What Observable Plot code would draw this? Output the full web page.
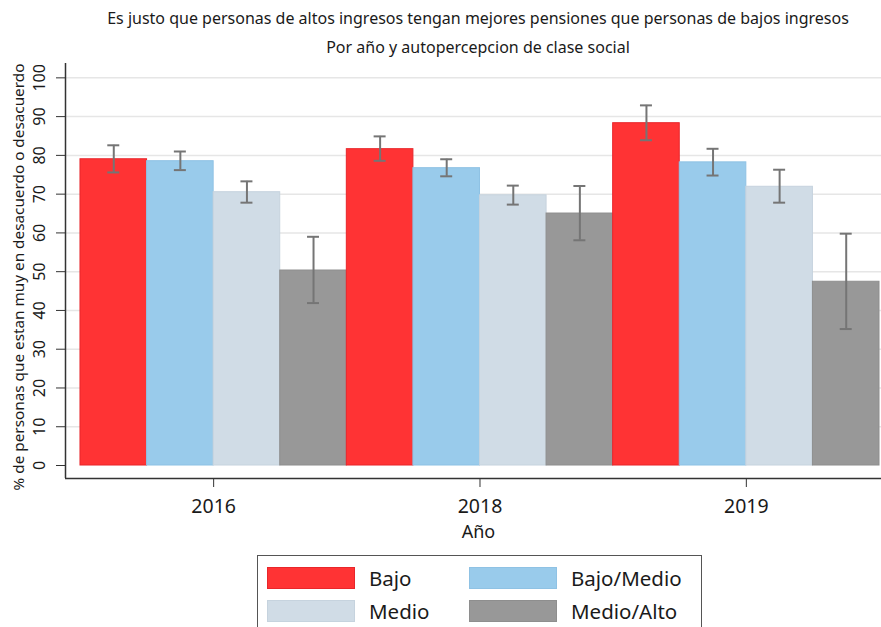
<!DOCTYPE html>
<html>
<head>
<meta charset="utf-8">
<script src="https://cdn.jsdelivr.net/npm/d3@7"></script>
<script src="https://cdn.jsdelivr.net/npm/@observablehq/plot@0.6"></script>
<style>
  html, body { margin: 0; padding: 0; background: #fff; overflow: hidden; }
  body { width: 881px; height: 627px; position: relative; font-family: "Noto Sans", sans-serif; color: #1a1a1a; }
  #head { position: relative; height: 60px; }
  #title, #subtitle { position: absolute; left: 78px; width: 800px; text-align: center; white-space: nowrap; line-height: 20px; font-size: 16px; }
  #title { top: 8px; }
  #subtitle { top: 37px; }
  #chart svg { overflow: visible; }
  #legend { position: absolute; left: 257px; top: 555px; width: 445px; height: 90px; border: 1.5px solid #555; box-sizing: border-box; background: #fff; }
  .item { position: absolute; display: flex; align-items: center; height: 24px; font-size: 20.5px; }
  .sw { width: 88px; height: 22px; box-sizing: border-box; margin-right: 14px; }
</style>
</head>
<body>
<div id="head"><div id="title"></div><div id="subtitle"></div></div>
<div id="chart"></div>
<div id="legend"></div>
<script>
const title = "Es justo que personas de altos ingresos tengan mejores pensiones que personas de bajos ingresos";
const subtitle = "Por año y autopercepcion de clase social";
const yLabel = "% de personas que estan muy en desacuerdo o desacuerdo";
const xLabel = "Año";

const years = ["2016", "2018", "2019"];
const classes = ["Bajo", "Bajo/Medio", "Medio", "Medio/Alto"];
const colors = ["#ff3334", "#99cbeb", "#d0dce6", "#989898"];
const strokes = ["#e8262b", "#8fc2e4", "#c6d3de", "#8e8e8e"];

// values per year (2016, 2018, 2019)
const bajo = [79.0, 81.6, 88.3];
const bajoLo = [75.6, 78.6, 83.9];
const bajoHi = [82.6, 84.9, 92.9];
const bajoMedio = [78.5, 76.7, 78.2];
const bajoMedioLo = [76.2, 74.6, 74.8];
const bajoMedioHi = [81.0, 79.0, 81.7];
const medio = [70.5, 69.7, 71.9];
const medioLo = [67.8, 67.3, 67.8];
const medioHi = [73.3, 72.2, 76.3];
const medioAlto = [50.3, 65.0, 47.4];
const medioAltoLo = [41.9, 58.1, 35.2];
const medioAltoHi = [59.0, 72.1, 59.8];

const yTicks = [0, 10, 20, 30, 40, 50, 60, 70, 80, 90, 100];

document.getElementById("title").textContent = title;
document.getElementById("subtitle").textContent = subtitle;

const series = [
  [bajo, bajoLo, bajoHi],
  [bajoMedio, bajoMedioLo, bajoMedioHi],
  [medio, medioLo, medioHi],
  [medioAlto, medioAltoLo, medioAltoHi]
];
const rows = [];
years.forEach((yr, gi) => {
  classes.forEach((cls, ci) => {
    const [v, lo, hi] = series[ci];
    rows.push({year: yr, cls, i: gi * 4 + ci, v: v[gi], lo: lo[gi], hi: hi[gi]});
  });
});

const xDomain = [-0.225, 12.03];
const yDomain = [-3.35, 103.7];

const chart = Plot.plot({
  width: 881,
  height: 495,
  marginLeft: 65,
  marginRight: 0,
  marginTop: 3,
  marginBottom: 77,
  style: {fontFamily: "Noto Sans", color: "#1a1a1a", background: "#fff", overflow: "visible"},
  x: {domain: xDomain, axis: null},
  y: {domain: yDomain, axis: null},
  color: {domain: classes, range: colors},
  marks: [
    Plot.ruleY(yTicks.filter(d => d > 0), {y: d => d, stroke: "#e6e6e6", strokeWidth: 1.5}),
    Plot.rectY(rows, {
      x1: d => d.i, x2: d => d.i + 1, y1: 0, y2: "v",
      fill: "cls",
      stroke: d => strokes[classes.indexOf(d.cls)],
      strokeWidth: 1
    }),
    Plot.ruleX(rows, {x: d => d.i + 0.5, y1: "lo", y2: "hi", stroke: "#757575", strokeWidth: 2}),
    Plot.ruleY(rows, {y: "hi", x1: d => d.i + 0.41, x2: d => d.i + 0.59, stroke: "#757575", strokeWidth: 2}),
    Plot.ruleY(rows, {y: "lo", x1: d => d.i + 0.41, x2: d => d.i + 0.59, stroke: "#757575", strokeWidth: 2}),
    Plot.axisY({ticks: yTicks, tickSize: 9, tickFormat: () => "", stroke: "#333"}),
    Plot.text(yTicks, {y: d => d, text: d => String(d), frameAnchor: "left", textAnchor: "middle", lineAnchor: "middle", dx: -26, rotate: -90, fontSize: 16, fill: "#1a1a1a"}),
    Plot.text([yLabel], {text: d => d, frameAnchor: "left", textAnchor: "middle", lineAnchor: "middle", dx: -46, dy: 6, rotate: -90, fontSize: 15.3, fill: "#1a1a1a"}),
    Plot.axisX({ticks: [2, 6, 10], tickFormat: d => years[(d - 2) / 4], tickSize: 9, tickPadding: 12, fontSize: 19.5, stroke: "#333", label: null}),
    Plot.text([xLabel], {text: d => d, frameAnchor: "bottom", lineAnchor: "middle", dx: 5, dy: 54, fontSize: 18, fill: "#1a1a1a"}),
    Plot.ruleX([xDomain[0]], {stroke: "#333", strokeWidth: 1.5}),
    Plot.ruleY([yDomain[0]], {stroke: "#333", strokeWidth: 1.5})
  ]
});
document.getElementById("chart").appendChild(chart);

// legend
const legend = document.getElementById("legend");
const pos = [[9, 10], [211, 10], [9, 43], [211, 43]];
classes.forEach((cls, ci) => {
  const it = document.createElement("div");
  it.className = "item";
  it.style.left = pos[ci][0] + "px";
  it.style.top = pos[ci][1] + "px";
  const sw = document.createElement("span");
  sw.className = "sw";
  sw.style.background = colors[ci];
  sw.style.border = "1px solid " + strokes[ci];
  const lb = document.createElement("span");
  lb.textContent = cls;
  it.appendChild(sw);
  it.appendChild(lb);
  legend.appendChild(it);
});
</script>
</body>
</html>
